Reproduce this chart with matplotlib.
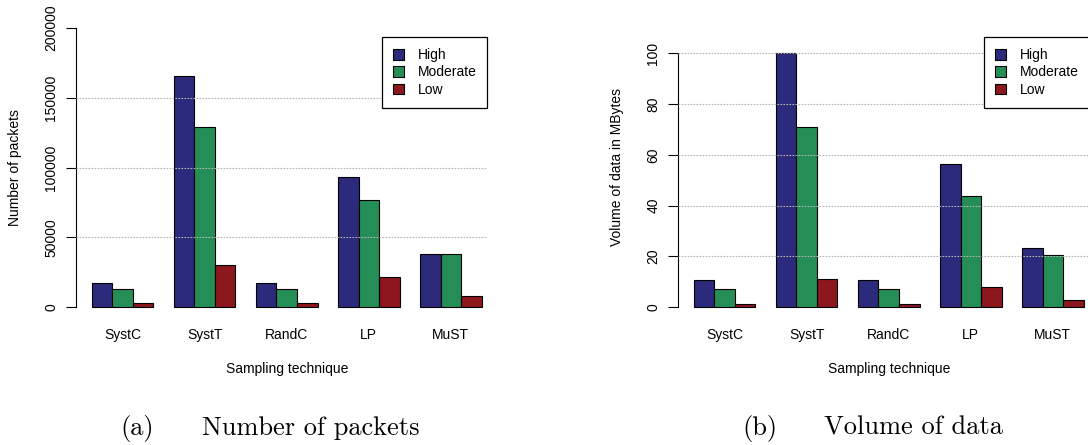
import numpy as np
import matplotlib
matplotlib.use("Agg")
import matplotlib.pyplot as plt

plt.rcParams['font.family'] = ['Liberation Sans', 'DejaVu Sans']

categories = ['SystC', 'SystT', 'RandC', 'LP', 'MuST']
levels = ['High', 'Moderate', 'Low']
colors = ['#2c2a7b', '#258e57', '#8c171c']

packets_high = [17200, 166000, 17200, 93200, 37800]
packets_moderate = [12700, 129000, 12700, 76500, 38200]
packets_low = [3100, 30300, 3100, 21700, 7600]

volume_high = [10.5, 100.3, 10.5, 56.4, 23.4]
volume_moderate = [7.1, 71.1, 7.1, 43.8, 20.5]
volume_low = [1.2, 10.9, 1.0, 8.0, 2.9]

packet_ticks = [0, 50000, 100000, 150000, 200000]
packet_grid = [50000, 100000, 150000]
volume_ticks = [0, 20, 40, 60, 80, 100]
volume_grid = [20, 40, 60, 80, 100]

fs = 10

fig = plt.figure(figsize=(10.88, 4.45), dpi=100)
W, H = 1088.0, 445.0
bottom = (H - 318) / H
height = (318 - 17) / H
ax1 = fig.add_axes([76.4 / W, bottom, 420.7 / W, height])
ax2 = fig.add_axes([678.4 / W, bottom, 420.7 / W, height])


def panel(ax, series, ymax, ticks, grid, ylabel):
    n = len(categories)
    for j, vals in enumerate(series):
        x = 1 + 4 * np.arange(n) + j
        ax.bar(x, vals, width=1, align='edge', color=colors[j],
               edgecolor='black', linewidth=0.8, label=levels[j], zorder=2)
    ax.set_xlim(0.24, 20.76)
    ax.set_ylim(-0.04 * ymax, 1.04 * ymax)
    for g in grid:
        ax.axhline(g, xmin=0.0, xmax=0.976, color='#b4b4b4',
                   linestyle=(0, (1.5, 1.2)), linewidth=0.8, zorder=3)
    for s in ['top', 'right', 'bottom']:
        ax.spines[s].set_visible(False)
    ax.spines['left'].set_bounds(ticks[0], ticks[-1])
    ax.spines['left'].set_linewidth(0.8)
    ax.set_xticks(2.5 + 4 * np.arange(n))
    ax.set_xticklabels(categories, fontsize=fs)
    ax.tick_params(axis='x', length=0, pad=7)
    ax.set_yticks(ticks)
    ax.set_yticklabels([str(t) for t in ticks], fontsize=fs, rotation=90, va='center')
    ax.tick_params(axis='y', length=7, width=0.8, pad=6)
    ax.set_ylabel(ylabel, fontsize=fs)
    ax.yaxis.set_label_coords(-0.146, 0.5)
    ax.yaxis.label.set_va('center')
    ax.set_xlabel('Sampling technique', fontsize=fs)
    ax.xaxis.set_label_coords(0.5, -51 / 301)
    ax.xaxis.label.set_va('center')
    leg = ax.legend(loc='upper left', bbox_to_anchor=(0.7264, 0.9336), fontsize=fs,
                    fancybox=False, framealpha=1, edgecolor='black',
                    handlelength=0.8, handleheight=0.8, handletextpad=0.95,
                    labelspacing=0.24, borderpad=0.8, borderaxespad=0)
    leg.get_frame().set_linewidth(0.9)
    leg.set_zorder(5)


panel(ax1, [packets_high, packets_moderate, packets_low], 200000,
      packet_ticks, packet_grid, 'Number of packets')
panel(ax2, [volume_high, volume_moderate, volume_low], 110,
      volume_ticks, volume_grid, 'Volume of data in MBytes')

cap_y = 1 - 428 / H
fig.text(137 / W, cap_y, '(a)', family='cmr10', fontsize=19, ha='center', va='center')
fig.text(311 / W, cap_y, 'Number of packets', family='cmr10', fontsize=19, ha='center', va='center')
fig.text(760 / W, cap_y, '(b)', family='cmr10', fontsize=19, ha='center', va='center')
fig.text(913 / W, cap_y, 'Volume of data', family='cmr10', fontsize=19, ha='center', va='center')

fig.savefig('out.png', dpi=100)
